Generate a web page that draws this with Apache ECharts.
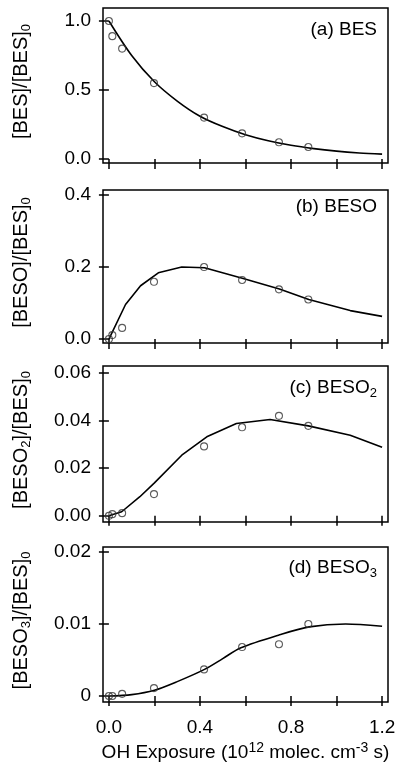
<!DOCTYPE html>
<html>
<head>
<meta charset="utf-8">
<script src="https://cdn.jsdelivr.net/npm/echarts@6/dist/echarts.min.js"></script>
<style>html,body{margin:0;background:#fff}#chart{width:399px;height:769px}</style>
</head>
<body>
<div id="chart"></div>
<script>
const FONT = 'Liberation Sans';

// measured OH exposures (10^12 molec cm^-3 s)
const exposure = [0, 0.015, 0.058, 0.198, 0.418, 0.585, 0.747, 0.876];
const besObs   = [1.0, 0.89, 0.80, 0.55, 0.30, 0.186, 0.121, 0.087];
const besoObs  = [0, 0.011, 0.031, 0.159, 0.200, 0.164, 0.138, 0.110];
const beso2Obs = [0, 0.0007, 0.0011, 0.0091, 0.0291, 0.0371, 0.0419, 0.0377];
const beso3Obs = [0, 0, 0.0003, 0.0011, 0.0037, 0.0068, 0.0072, 0.0100];

// model curves
const besFitX   = [0, 0.1, 0.2, 0.3, 0.4, 0.5, 0.6, 0.7, 0.8, 0.9, 1.0, 1.1, 1.2];
const besFit    = [1.0, 0.75, 0.56, 0.42, 0.31, 0.235, 0.176, 0.132, 0.099, 0.075, 0.057, 0.044, 0.035];
const besoFitX  = [0, 0.073, 0.139, 0.217, 0.32, 0.42, 0.586, 0.749, 0.878, 1.06, 1.2];
const besoFit   = [0, 0.096, 0.148, 0.184, 0.200, 0.198, 0.169, 0.139, 0.110, 0.079, 0.063];
const beso2FitX = [0, 0.056, 0.136, 0.2, 0.32, 0.43, 0.56, 0.708, 0.876, 1.06, 1.2];
const beso2Fit  = [0, 0.0017, 0.008, 0.0138, 0.0254, 0.0331, 0.0387, 0.0404, 0.0377, 0.0338, 0.0287];
const beso3FitX = [0, 0.1, 0.2, 0.3, 0.42, 0.5, 0.58, 0.75, 0.88, 1.04, 1.2];
const beso3Fit  = [0, 0.0002, 0.0008, 0.002, 0.0037, 0.0052, 0.0067, 0.0085, 0.0096, 0.0100, 0.0097];

// ticks
const xTicks = [0, 0.2, 0.4, 0.6, 0.8, 1.0, 1.2];
const xLabelTicks = [0, 0.4, 0.8, 1.2];
const xLabels = ['0.0', '0.4', '0.8', '1.2'];
const yTicksA = [0, 0.5, 1.0],           yLabelsA = ['0.0', '0.5', '1.0'];
const yTicksB = [0, 0.2, 0.4],           yLabelsB = ['0.0', '0.2', '0.4'];
const yTicksC = [0, 0.02, 0.04, 0.06],   yLabelsC = ['0.00', '0.02', '0.04', '0.06'];
const yTicksD = [0, 0.01, 0.02],         yLabelsD = ['0', '0.01', '0.02'];

const rich = {
  m: { fontFamily: FONT, fontSize: 19, lineHeight: 24, color: '#000' },
  s: { fontFamily: FONT, fontSize: 13, lineHeight: 8, verticalAlign: 'bottom', color: '#000' },
  p: { fontFamily: FONT, fontSize: 14, lineHeight: 12, verticalAlign: 'top', color: '#000' }
};
const richName = {
  m: { fontFamily: FONT, fontSize: 20, lineHeight: 24, color: '#000' },
  s: { fontFamily: FONT, fontSize: 13, lineHeight: 8, verticalAlign: 'bottom', color: '#000' }
};

const panels = [
  { top: 8,   height: 155, min: -0.029,  max: 1.094,  ticks: yTicksA, labels: yLabelsA,
    name: '{m|[BES]/[BES]}{s|0}', tag: '{m|(a) BES}', tagTop: 18,
    obs: besObs, fx: besFitX, fy: besFit, smooth: true },
  { top: 190, height: 153, min: -0.011,  max: 0.414,  ticks: yTicksB, labels: yLabelsB,
    name: '{m|[BESO]/[BES]}{s|0}', tag: '{m|(b) BESO}', tagTop: 195,
    obs: besoObs, fx: besoFitX, fy: besoFit, smooth: false },
  { top: 366, height: 156, min: -0.0026, max: 0.0628, ticks: yTicksC, labels: yLabelsC,
    name: '{m|[BESO}{s|2}{m|]/[BES]}{s|0}', tag: '{m|(c) BESO}{s|2}', tagTop: 376,
    obs: beso2Obs, fx: beso2FitX, fy: beso2Fit, smooth: false },
  { top: 547, height: 155, min: -0.00083, max: 0.0207, ticks: yTicksD, labels: yLabelsD,
    name: '{m|[BESO}{s|3}{m|]/[BES]}{s|0}', tag: '{m|(d) BESO}{s|3}', tagTop: 556,
    obs: beso3Obs, fx: beso3FitX, fy: beso3Fit, smooth: true }
];

const tickStyle = { show: true, length: 10, lineStyle: { color: '#000', width: 1.5 } };

const option = {
  animation: false,
  backgroundColor: '#fff',
  title: panels.map(p => ({
    text: p.tag, right: 22, top: p.tagTop, padding: 0,
    textStyle: { fontFamily: FONT, fontSize: 19, fontWeight: 'normal', color: '#000', rich: rich }
  })),
  grid: panels.map(p => ({
    left: 103, right: 11, top: p.top, height: p.height,
    show: true, borderColor: '#000', borderWidth: 1.5, backgroundColor: 'transparent'
  })),
  xAxis: panels.map((p, i) => ({
    type: 'value', gridIndex: i, min: -0.026, max: 1.226,
    axisLine: { show: false }, splitLine: { show: false },
    axisTick: Object.assign({ customValues: xTicks }, tickStyle),
    axisLabel: i === 3 ? {
      customValues: xLabelTicks, margin: 16, color: '#000', fontFamily: FONT, fontSize: 19,
      formatter: v => xLabels[xLabelTicks.findIndex(t => Math.abs(t - v) < 1e-9)]
    } : { show: false },
    name: i === 3 ? '{m|OH Exposure (10}{p|12}{m| molec. cm}{p|-3}{m| s)}' : '',
    nameLocation: 'middle', nameGap: 39,
    nameTextStyle: { rich: rich }
  })),
  yAxis: panels.map((p, i) => ({
    type: 'value', gridIndex: i, min: p.min, max: p.max,
    axisLine: { show: false }, splitLine: { show: false },
    axisTick: Object.assign({ customValues: p.ticks }, tickStyle),
    axisLabel: {
      customValues: p.ticks, margin: 12, color: '#000', fontFamily: FONT, fontSize: 19,
      formatter: v => p.labels[p.ticks.findIndex(t => Math.abs(t - v) < 1e-12)]
    },
    name: p.name, nameLocation: 'middle', nameGap: 70, nameRotate: 90,
    nameTextStyle: { rich: richName, padding: [0, 0, 0, 8] }
  })),
  series: panels.flatMap((p, i) => [
    {
      type: 'line', xAxisIndex: i, yAxisIndex: i, symbol: 'none', smooth: p.smooth ? 0.3 : false,
      data: p.fx.map((x, j) => [x, p.fy[j]]),
      lineStyle: { color: '#000', width: 1.6 }, silent: true, z: 2
    },
    {
      type: 'scatter', xAxisIndex: i, yAxisIndex: i, symbol: 'circle', symbolSize: 7,
      data: exposure.map((x, j) => [x, p.obs[j]]),
      itemStyle: { color: 'rgba(0,0,0,0)', borderColor: '#333', borderWidth: 1.1 }, silent: true, z: 3
    }
  ])
};

const chart = echarts.init(document.getElementById('chart'), null, { renderer: 'canvas' });
chart.setOption(option);
</script>
</body>
</html>
